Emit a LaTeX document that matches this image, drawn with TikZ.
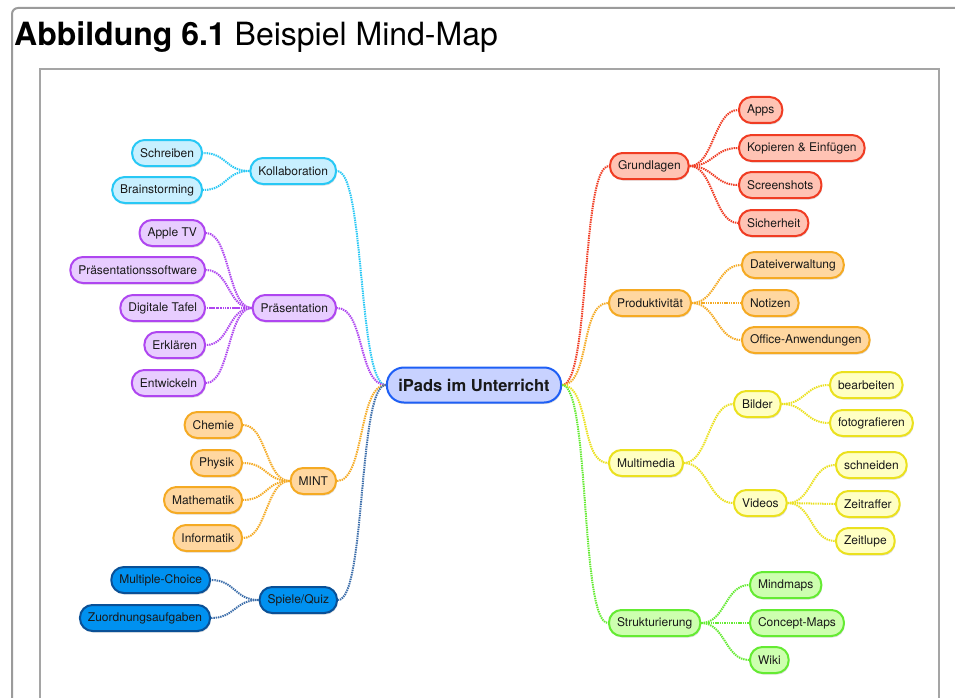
\documentclass[tikz,border=0pt]{standalone}
\usepackage{fontspec}
\setmainfont{TeX Gyre Heros}
\usepackage{tikz}
\usetikzlibrary{calc,positioning,shadows,backgrounds}
\definecolor{cyanB}{RGB}{40,200,245}  \definecolor{cyanF}{RGB}{200,240,255}
\definecolor{purpB}{RGB}{175,70,240}  \definecolor{purpF}{RGB}{232,205,255}
\definecolor{orngB}{RGB}{245,170,35}  \definecolor{orngF}{RGB}{255,215,160}
\definecolor{blueB}{RGB}{10,80,150}   \definecolor{blueF}{RGB}{0,145,240}
\definecolor{blueL}{RGB}{60,110,170}
\definecolor{redB}{RGB}{240,60,35}    \definecolor{redF}{RGB}{255,195,180}
\definecolor{yellB}{RGB}{235,225,30}  \definecolor{yellF}{RGB}{255,255,195}
\definecolor{grnB}{RGB}{100,235,50}   \definecolor{grnF}{RGB}{205,255,175}
\definecolor{ctrB}{RGB}{30,95,245}    \definecolor{ctrF}{RGB}{200,210,255}
\definecolor{frameGray}{RGB}{155,155,155}
\tikzset{
  topic/.style={rectangle, rounded corners=12.5pt, line width=2pt,
    minimum height=26pt, inner xsep=8pt, inner ysep=2pt,
    font=\fontsize{12}{14}\selectfont, text=black!90,
    drop shadow={shadow xshift=0.8pt,shadow yshift=-1.6pt,opacity=0.25}},
  tcol/.style 2 args={topic, draw=#1, fill=#2},
  link/.style={line width=2pt, dash pattern=on 1.4pt off 0.9pt, draw=#1},
  toleft/.style={out=180, in=0, out distance=#1, in distance=#1},
  toright/.style={out=0, in=180, out distance=#1, in distance=#1}
}
\begin{document}
\begin{tikzpicture}[x=1pt,y=-1pt]
  \useasboundingbox[fill=white] (0,0) rectangle (955,698);
  % frames
  \draw[frameGray, line width=2pt, rounded corners=6pt] (12,698) -- (12,8) -- (955,8);
  \draw[frameGray!90, line width=2pt] (40,698) -- (40,69) -- (939,69) -- (939,698);
  \node[anchor=base west, font=\fontsize{32}{36}\selectfont, inner sep=0pt] (title) at (14,46)
    {\textbf{Abbildung 6.1} Beispiel Mind-Map};

  % centre
  \node[topic, draw=ctrB, fill=ctrF, rounded corners=17pt, minimum height=35pt,
        inner xsep=11.5pt, font=\fontsize{16.5}{19}\selectfont\bfseries] (ipads) at (474,385)
    {iPads im Unterricht};

  % left branches
  \node[tcol={cyanB}{cyanF}, anchor=east] (kollab) at (337,171) {Kollaboration};
  \node[tcol={purpB}{purpF}, anchor=east] (praes) at (337,308) {Präsentation};
  \node[tcol={orngB}{orngF}, anchor=east] (mint) at (337,481) {MINT};
  \node[tcol={blueB}{blueF}, anchor=east] (spiele) at (338,600) {Spiele/Quiz};
  \draw[link=cyanB] (ipads.west) to[toleft=28pt] (kollab.east);
  \draw[link=purpB] (ipads.west) to[toleft=28pt] (praes.east);
  \draw[link=orngB] (ipads.west) to[toleft=28pt] (mint.east);
  \draw[link=blueL] (ipads.west) to[toleft=28pt] (spiele.east);

  \foreach \n/\y/\t in {schreib/153/Schreiben, brain/190/Brainstorming}{
    \node[tcol={cyanB}{cyanF}, anchor=east] (\n) at (203,\y) {\t};
    \draw[link=cyanB] (kollab.west) to[toleft=24pt] (\n.east);
  }
  \foreach \n/\y/\t in {apptv/233/Apple TV, software/270/Präsentationssoftware,
                        tafel/308/Digitale Tafel, erkl/345/Erklären, entw/383/Entwickeln}{
    \node[tcol={purpB}{purpF}, anchor=east] (\n) at (206,\y) {\t};
    \draw[link=purpB] (praes.west) to[toleft=24pt] (\n.east);
  }
  \foreach \n/\y/\t in {chemie/425/Chemie, physik/463/Physik,
                        mathe/500/Mathematik, info/538/Informatik}{
    \node[tcol={orngB}{orngF}, anchor=east] (\n) at (243,\y) {\t};
    \draw[link=orngB] (mint.west) to[toleft=24pt] (\n.east);
  }
  \foreach \n/\y/\t in {mc/580/Multiple-Choice, zuord/618/Zuordnungsaufgaben}{
    \node[tcol={blueB}{blueF}, anchor=east] (\n) at (211,\y) {\t};
    \draw[link=blueL] (spiele.west) to[toleft=24pt] (\n.east);
  }

  % right branches
  \node[tcol={redB}{redF}, anchor=west] (grund) at (609,166) {Grundlagen};
  \node[tcol={orngB}{orngF}, anchor=west] (produkt) at (608,303) {Produktivität};
  \node[tcol={yellB}{yellF}, anchor=west] (multi) at (608,463) {Multimedia};
  \node[tcol={grnB}{grnF}, anchor=west] (struk) at (608,623) {Strukturierung};
  \draw[link=redB] (ipads.east) to[toright=28pt] (grund.west);
  \draw[link=orngB] (ipads.east) to[toright=28pt] (produkt.west);
  \draw[link=yellB] (ipads.east) to[toright=28pt] (multi.west);
  \draw[link=grnB] (ipads.east) to[toright=28pt] (struk.west);

  \foreach \n/\y/\t in {apps/110/Apps, kopieren/148/Kopieren \& Einfügen,
                        screens/185/Screenshots, sicher/223/Sicherheit}{
    \node[tcol={redB}{redF}, anchor=west] (\n) at (738,\y) {\t};
    \draw[link=redB] (grund.east) to[toright=24pt] (\n.west);
  }
  \foreach \n/\y/\t in {datei/265/Dateiverwaltung, notiz/303/Notizen,
                        office/340/Office-Anwendungen}{
    \node[tcol={orngB}{orngF}, anchor=west] (\n) at (741,\y) {\t};
    \draw[link=orngB] (produkt.east) to[toright=24pt] (\n.west);
  }
  \node[tcol={yellB}{yellF}, anchor=west] (bilder) at (733,404) {Bilder};
  \node[tcol={yellB}{yellF}, anchor=west] (videos) at (733,503) {Videos};
  \draw[link=yellB] (multi.east) to[toright=24pt] (bilder.west);
  \draw[link=yellB] (multi.east) to[toright=24pt] (videos.west);
  \foreach \n/\y/\t in {bearb/385/bearbeiten, foto/423/fotografieren}{
    \node[tcol={yellB}{yellF}, anchor=west] (\n) at (829,\y) {\t};
    \draw[link=yellB] (bilder.east) to[toright=24pt] (\n.west);
  }
  \foreach \n/\y/\t in {schneid/465/schneiden, raffer/504/Zeitraffer, lupe/541/Zeitlupe}{
    \node[tcol={yellB}{yellF}, anchor=west] (\n) at (835,\y) {\t};
    \draw[link=yellB] (videos.east) to[toright=24pt] (\n.west);
  }
  \foreach \n/\y/\t in {mindm/585/Mindmaps, concept/623/Concept-Maps, wiki/660/Wiki}{
    \node[tcol={grnB}{grnF}, anchor=west] (\n) at (749,\y) {\t};
    \draw[link=grnB] (struk.east) to[toright=24pt] (\n.west);
  }
\end{tikzpicture}
\end{document}
